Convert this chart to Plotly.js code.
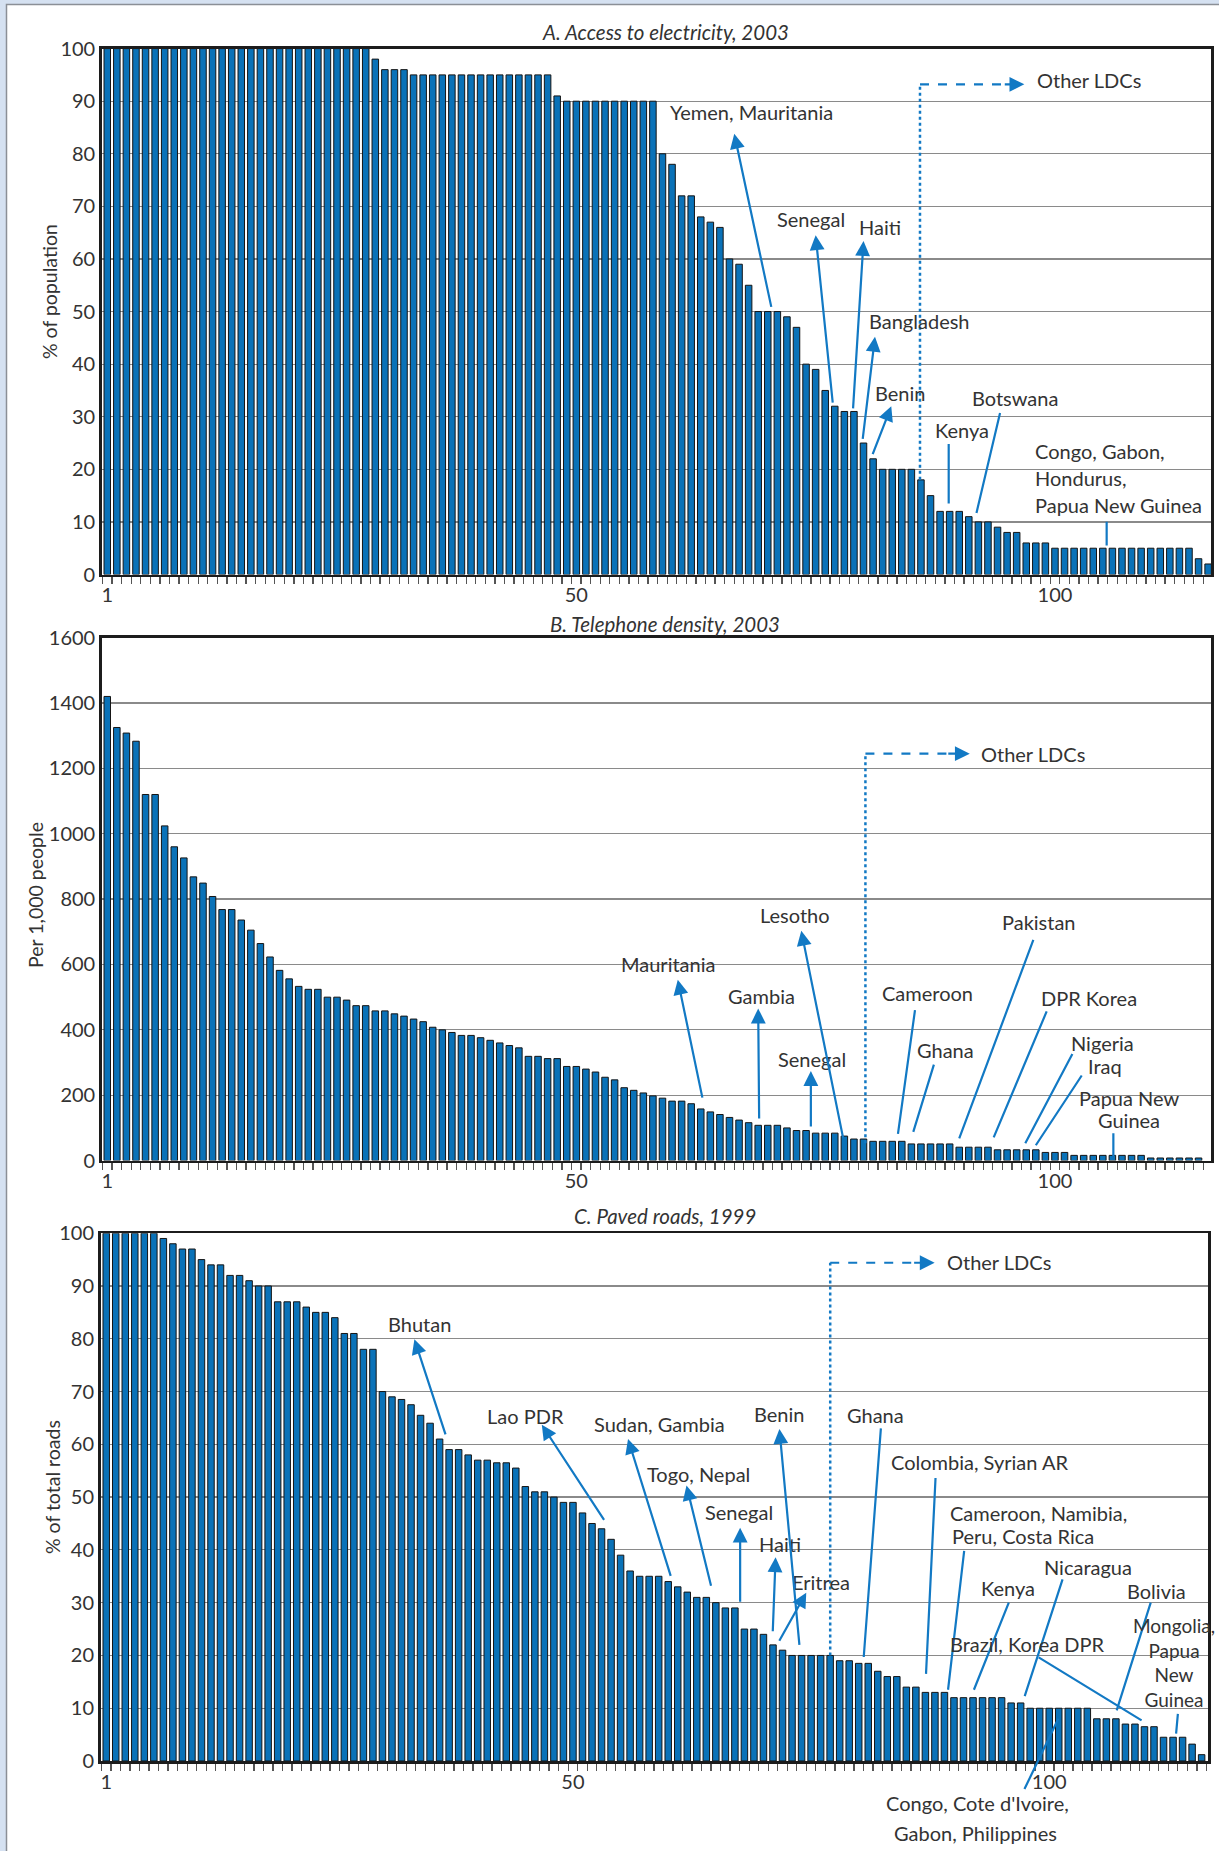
<!DOCTYPE html>
<html><head><meta charset="utf-8">
<script src="https://cdn.plot.ly/plotly-3.0.1.min.js"></script>
<style>html,body{margin:0;padding:0;background:#fff;}#chart{width:1219px;height:1851px;}</style>
</head><body><div id="chart"></div>
<script>
// ---------- DATA ----------
// A. Access to electricity, 2003 (% of population), countries ranked 1..116
const electricity = [
  100,100,100,100,100,100,100,100,100,100,
  100,100,100,100,100,100,100,100,100,100,
  100,100,100,100,100,100,100,100,98,96,
  96,96,95,95,95,95,95,95,95,95,
  95,95,95,95,95,95,95,91,90,90,
  90,90,90,90,90,90,90,90,80,78,
  72,72,68,67,66,60,59,55,50,50,
  50,49,47,40,39,35,32,31,31,25,
  22,20,20,20,20,18,15,12,12,12,
  11,10,10,9,8,8,6,6,6,5,
  5,5,5,5,5,5,5,5,5,5,
  5,5,5,5,3,2
];
// B. Telephone density, 2003 (per 1,000 people), countries ranked 1..115
const telephone = [
  1420,1325,1308,1283,1120,1120,1024,960,926,868,
  849,808,768,768,736,705,664,623,582,556,
  533,524,524,500,500,491,474,474,458,458,
  449,442,433,425,408,400,392,383,383,376,
  368,360,352,345,319,319,312,312,288,288,
  280,271,255,247,223,215,207,198,191,182,
  182,174,158,149,141,132,124,116,108,108,
  108,100,92,92,84,84,84,75,66,66,
  59,59,59,59,51,51,51,51,51,41,
  41,41,41,33,33,33,33,33,25,25,
  25,16,16,16,16,16,16,16,16,8,
  8,8,8,8,8
];
// C. Paved roads, 1999 (% of total roads), countries ranked 1..116
const pavedRoads = [
  100,100,100,100,100,100,99,98,97,97,
  95,94,94,92,92,91,90,90,87,87,
  87,86,85,85,84,81,81,78,78,70,
  69,68.5,67.5,65.5,64,61,59,59,58,57,
  57,56.5,56.5,55.5,52,51,51,50,49,49,
  47,45,44,42,39,36,35,35,35,34,
  33,32,31,31,30,29,29,25,25,24,
  22,21,20,20,20,20,20,19,19,18.5,
  18.5,17,16,16,14,14,13,13,13,12,
  12,12,12,12,12,11,11,10,10,10,
  10,10,10,10,8,8,8,7,7,6.5,
  6.5,4.5,4.5,4.5,3.2,1.2
];
const xTickVals = [1, 50, 100];
const xTickText = ['1', '50', '100'];
const panelTitles = ['A. Access to electricity, 2003', 'B. Telephone density, 2003', 'C. Paved roads, 1999'];
const yTitles = ['% of population', 'Per 1,000 people', '% of total roads'];

// ---------- STYLE ----------
const FONT = "Lato, 'Open Sans', sans-serif";
const TXT = '#333333';
const BLUE = '#1279c4';
const BAR = '#0a72b8';
const W = 1219, H = 1851;
const px = v => v / W;
const py = v => 1 - v / H;

const ranks = arr => arr.map((_, i) => i + 1);
const halfTicks = Array.from({length: 118}, (_, i) => i + 0.5);

function barTrace(vals, ax) {
  return {type: 'bar', x: ranks(vals), y: vals, xaxis: 'x' + ax, yaxis: 'y' + ax,
    marker: {color: BAR, line: {color: '#151515', width: 1}}, hoverinfo: 'x+y', showlegend: false};
}
const frame = {showline: true, mirror: true, linecolor: '#1c1c1c', linewidth: 2.5, zeroline: false};
function xAxis(domain, range, anchor) {
  return Object.assign({domain, range, anchor, tickmode: 'array', tickvals: xTickVals, ticktext: xTickText,
    ticks: 'outside', ticklen: 1, tickcolor: 'rgba(0,0,0,0)', tickfont: {family: FONT, size: 20, color: TXT},
    minor: {tickmode: 'array', tickvals: halfTicks, ticks: 'outside', ticklen: 7, tickcolor: '#555', tickwidth: 1.3, showgrid: false},
    showgrid: false}, frame);
}
function yAxis(domain, range, dtick, anchor) {
  return Object.assign({domain, range, anchor, tickmode: 'linear', tick0: 0, dtick,
    ticks: '', tickfont: {family: FONT, size: 20, color: TXT},
    showgrid: true, gridcolor: '#8a8a8a', gridwidth: 1.2}, frame);
}

// ---------- CALLOUTS (positions in axis units) ----------
const anns = [];
const shapes = [];
const LFONT = {family: FONT, size: 20, color: TXT};
function label(ax, text, x, y, xanchor, font) {
  anns.push({xref: 'x' + ax, yref: 'y' + ax, x, y, text, showarrow: false, xanchor: xanchor || 'center', yanchor: 'middle',
    font: font || LFONT});
}
function pointer(ax, x0, y0, x1, y1, head) {
  anns.push({xref: 'x' + ax, yref: 'y' + ax, axref: 'x' + ax, ayref: 'y' + ax, x: x1, y: y1, ax: x0, ay: y0, text: '',
    showarrow: true, arrowhead: head ? 2 : 0, arrowsize: 1.35, arrowwidth: 2.2, arrowcolor: BLUE, standoff: 0, startstandoff: 0});
}
function otherLDCs(ax, xv, yBottom, yTop, dashEnd, headEnd, textX, textY) {
  shapes.push({type: 'line', xref: 'x' + ax, yref: 'y' + ax, x0: xv, x1: xv, y0: yBottom, y1: yTop,
    line: {color: BLUE, width: 2.5, dash: 'dot'}});
  shapes.push({type: 'line', xref: 'x' + ax, yref: 'y' + ax, x0: xv, x1: dashEnd, y0: yTop, y1: yTop,
    line: {color: BLUE, width: 2.2, dash: 'dash'}});
  pointer(ax, dashEnd - 0.3, yTop, headEnd, yTop, true);
  label(ax, 'Other LDCs', textX, textY, 'left');
}

// Panel A
label('', 'Yemen, Mauritania', 68.3, 88);
pointer('', 70.4, 50.6, 66.5, 83.8, true);
label('', 'Senegal', 74.5, 67.6);
pointer('', 76.8, 32.4, 75.0, 64.5, true);
label('', 'Haiti', 81.7, 66);
pointer('', 78.9, 31.3, 80.0, 63.4, true);
label('', 'Bangladesh', 85.9, 48.2);
pointer('', 79.9, 25.5, 81.2, 45.2, true);
label('', 'Benin', 83.8, 34.6);
pointer('', 80.9, 22.6, 82.9, 32, true);
label('', 'Kenya', 90.3, 27.5);
pointer('', 88.9, 25.1, 88.9, 13.5, false);
label('', 'Botswana', 95.8, 33.5);
pointer('', 94.3, 31, 91.8, 11.7, false);
label('', 'Congo, Gabon,', 97.7, 23.5, 'left');
label('', 'Hondurus,', 97.7, 18.4, 'left');
label('', 'Papua New Guinea', 97.7, 13.3, 'left');
pointer('', 105.4, 10.3, 105.4, 5.5, false);
otherLDCs('', 85.9, 18, 93.2, 94.9, 96.8, 97.9, 94);

// Panel B
label('2', 'Mauritania', 59.6, 600);
pointer('2', 63.2, 188, 60.6, 553, true);
label('2', 'Gambia', 69.3, 504);
pointer('2', 69.1, 124, 69.0, 465, true);
label('2', 'Senegal', 74.6, 312);
pointer('2', 74.5, 100, 74.5, 274, true);
label('2', 'Lesotho', 72.8, 751);
pointer('2', 77.9, 65, 73.5, 703, true);
label('2', 'Cameroon', 86.7, 512);
pointer('2', 85.4, 465, 83.6, 82, false);
label('2', 'Ghana', 88.6, 337);
pointer('2', 87.4, 298, 85.2, 88, false);
label('2', 'Pakistan', 98.3, 729);
pointer('2', 97.8, 680, 90.0, 68, false);
label('2', 'DPR Korea', 103.6, 498);
pointer('2', 99.2, 461, 93.6, 71, false);
label('2', 'Nigeria', 105, 360);
pointer('2', 101.9, 331, 96.9, 53, false);
label('2', 'Iraq', 105.2, 288);
pointer('2', 102.9, 265, 98.0, 47, false);
label('2', 'Papua New', 107.7, 191);
label('2', 'Guinea', 107.7, 124);
pointer('2', 106.1, 88, 106.1, 14, false);
otherLDCs('2', 80.2, 53, 1245, 89.0, 91.1, 92.1, 1245);

// Panel C (its bars are spaced slightly tighter: convert reference positions)
const cx = v => 1.063 + (v - 1) * 1.00588;
label('3', 'Bhutan', cx(33.6), 82.8);
pointer('3', cx(36.4), 61.6, cx(33.1), 79.9, true);
label('3', 'Lao PDR', cx(44.7), 65.3);
pointer('3', cx(53.0), 45.4, cx(46.4), 63.7, true);
label('3', 'Sudan, Gambia', cx(58.7), 63.9);
pointer('3', cx(59.9), 34.8, cx(55.4), 61, true);
label('3', 'Togo, Nepal', cx(62.8), 54.3);
pointer('3', cx(64.1), 32.9, cx(61.5), 52.2, true);
label('3', 'Senegal', cx(67), 47.2);
pointer('3', cx(67.1), 29.9, cx(67.1), 44.2, true);
label('3', 'Haiti', cx(71.3), 41.2);
pointer('3', cx(70.5), 24.3, cx(70.8), 38.6, true);
label('3', 'Eritrea', cx(75.5), 34);
pointer('3', cx(71.1), 22.5, cx(74.0), 31.9, true);
label('3', 'Benin', cx(71.2), 65.7);
pointer('3', cx(73.3), 21.7, cx(71.2), 62.9, true);
label('3', 'Ghana', cx(81.2), 65.6);
pointer('3', cx(81.8), 63.3, cx(80.0), 19.7, false);
label('3', 'Colombia, Syrian AR', cx(92.1), 56.6);
pointer('3', cx(87.5), 53.9, cx(86.5), 16.5, false);
label('3', 'Cameroon, Namibia,', cx(88.8), 46.9, 'left');
label('3', 'Peru, Costa Rica', cx(89.0), 42.6, 'left');
pointer('3', cx(90.5), 40.1, cx(88.8), 13.5, false);
label('3', 'Kenya', cx(95.1), 32.7);
pointer('3', cx(95.2), 30.3, cx(91.5), 13.5, false);
label('3', 'Nicaragua', cx(103.4), 36.8);
pointer('3', cx(100.8), 34.7, cx(96.8), 12.3, false);
label('3', 'Brazil, Korea DPR', cx(97.1), 22.2);
pointer('3', cx(98.1), 19.8, cx(109.0), 7.7, false);
label('3', 'Bolivia', cx(110.6), 32.3);
pointer('3', cx(110), 30.3, cx(106.4), 9.6, false);
label('3', 'Mongolia,<br>Papua<br>New<br>Guinea', cx(112.4), 18.6, 'center', {family: FONT, size: 19, color: TXT});
pointer('3', cx(112.8), 9.2, cx(112.6), 5.2, false);
pointer('3', cx(96.7), -5.6, cx(100.3), 8.0, false);
otherLDCs('3', cx(76.5), 20, 94.4, cx(85.4), cx(87.4), cx(88.5), 94.6);
// labels below panel C's axis (outside the axis range, so placed on the page)
anns.push({xref: 'paper', yref: 'paper', x: px(978), y: py(1803), text: 'Congo, Cote d\'Ivoire,', showarrow: false,
  xanchor: 'center', yanchor: 'middle', font: LFONT});
anns.push({xref: 'paper', yref: 'paper', x: px(975), y: py(1833), text: 'Gabon, Philippines', showarrow: false,
  xanchor: 'center', yanchor: 'middle', font: LFONT});

// Panel titles and y-axis titles (paper)
const titleY = [32, 624, 1216];
panelTitles.forEach((t, i) => anns.push({xref: 'paper', yref: 'paper', x: px(665), y: py(titleY[i]), text: '<i>' + t + '</i>',
  showarrow: false, xanchor: 'center', yanchor: 'middle', font: {family: FONT, size: 20.5, color: TXT}}));
const yTitleX = [50, 35, 52], yTitleY = [292, 895, 1487];
yTitles.forEach((t, i) => anns.push({xref: 'paper', yref: 'paper', x: px(yTitleX[i]), y: py(yTitleY[i]), text: t, textangle: -90,
  showarrow: false, xanchor: 'center', yanchor: 'middle', font: {family: FONT, size: 19.5, color: TXT}}));

// white page panel with grey edge on the light-blue frame
shapes.unshift({type: 'rect', xref: 'paper', yref: 'paper', x0: px(6.5), x1: 1.02, y0: -0.02, y1: py(4.5), layer: 'below',
  fillcolor: '#ffffff', line: {color: '#8b8f96', width: 1.5}});

const layout = {
  width: W, height: H, margin: {l: 0, r: 0, t: 0, b: 0},
  paper_bgcolor: '#d5e1f1', plot_bgcolor: '#ffffff',
  font: {family: FONT, color: TXT},
  bargap: 0.32, showlegend: false,
  xaxis: xAxis([px(101.7), px(1211)], [0.42, 116.3], 'y'),
  yaxis: yAxis([py(574.5), py(48.6)], [0, 100], 10, 'x'),
  xaxis2: xAxis([px(101.7), px(1211)], [0.42, 116.3], 'y2'),
  yaxis2: yAxis([py(1160.6), py(637.6)], [0, 1600], 200, 'x2'),
  xaxis3: xAxis([px(100.5), px(1208.3)], [0.4, 116.7], 'y3'),
  yaxis3: yAxis([py(1761), py(1233.2)], [0, 100], 10, 'x3'),
  annotations: anns, shapes: shapes
};

Plotly.newPlot('chart', [barTrace(electricity, ''), barTrace(telephone, '2'), barTrace(pavedRoads, '3')], layout,
  {displayModeBar: false, staticPlot: true});
</script>
</body></html>
